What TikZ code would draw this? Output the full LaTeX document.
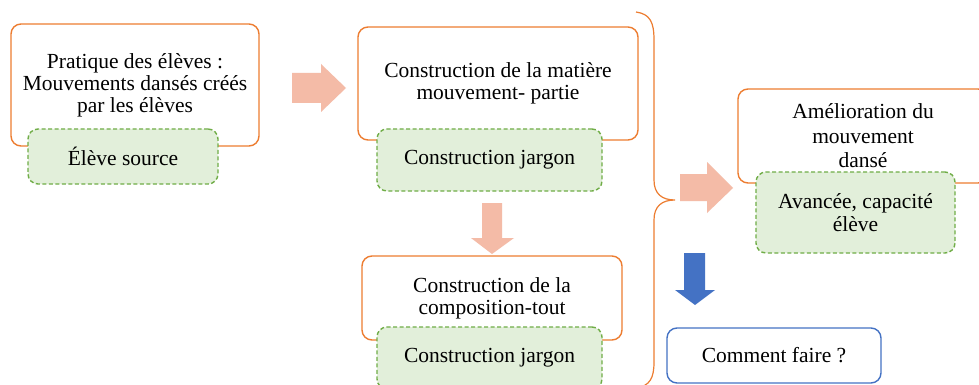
\documentclass[tikz,border=0pt]{standalone}
\usepackage{fontspec}
\setmainfont{Liberation Serif}
\definecolor{boxorange}{RGB}{237,125,49}
\definecolor{jargongreen}{RGB}{112,173,71}
\definecolor{jargonfill}{RGB}{226,239,218}
\definecolor{arrowpink}{RGB}{244,187,167}
\definecolor{askblue}{RGB}{68,114,196}
\begin{document}
\begin{tikzpicture}[x=1pt,y=-1pt,every node/.style={font=\fontsize{21.5}{22}\selectfont,align=center,inner sep=0pt},
  outerbox/.style={draw=boxorange,line width=1.4pt,rounded corners=10pt,fill=white},
  innerbox/.style={draw=jargongreen,line width=1.4pt,dash pattern=on 4pt off 2.5pt,rounded corners=10pt,fill=jargonfill},
  askbox/.style={draw=askblue,line width=1.4pt,rounded corners=10pt,fill=white}]
  \clip (0,0) rectangle (979,385);
  \fill[white] (0,0) rectangle (979,385);
  % stage boxes
  \node[outerbox,minimum width=248pt,minimum height=122pt] (pratique) at (135,85) {Pratique des élèves :\\ Mouvements dansés créés\\ par les élèves};
  \node[innerbox,minimum width=190pt,minimum height=55pt] (source) at (123,156.5) {Élève source};
  \node[outerbox,minimum width=280pt,minimum height=113pt] (matiere) at (498,83.5) {Construction de la matière\\ mouvement- partie};
  \node[innerbox,minimum width=225pt,minimum height=62pt] (jargonA) at (489.5,160) {Construction jargon};
  \node[outerbox,minimum width=260pt,minimum height=84pt] (composition) at (492,298) {Construction de la\\ composition-tout};
  \node[innerbox,minimum width=225pt,minimum height=62pt] (jargonB) at (489.5,358) {Construction jargon};
  \node[outerbox,minimum width=250pt,minimum height=94pt,font=\fontsize{21.5}{24.5}\selectfont] (amelioration) at (863,136) {Amélioration du\\ mouvement\\ dansé};
  \node[innerbox,minimum width=199pt,minimum height=81pt,font=\fontsize{21.5}{23}\selectfont] (avancee) at (855.5,212.5) {Avancée, capacité\\ élève};
  \node[askbox,minimum width=214pt,minimum height=55pt] (comment) at (774,355.5) {Comment faire ?};
  % block arrows
  \fill[arrowpink] (292,73) -- (321,73) -- (321,64) -- (346,88) -- (321,112) -- (321,103) -- (292,103) -- cycle;
  \fill[arrowpink] (482,203) -- (502,203) -- (502,238) -- (514,238) -- (492,254) -- (471,238) -- (482,238) -- cycle;
  \fill[arrowpink] (680,174) -- (707,174) -- (707,162) -- (733,188) -- (707,213) -- (707,201) -- (680,201) -- cycle;
  \fill[askblue] (684,253) -- (705,253) -- (705,290) -- (715,290) -- (695,305) -- (675,290) -- (684,290) -- cycle;
  % brace
  \draw[boxorange,line width=1.2pt] (636,12) .. controls (650,14) and (654,22) .. (654,40) -- (654,180)
    .. controls (654,194) and (662,200) .. (675,200) .. controls (662,200) and (654,206) .. (654,220)
    -- (654,362) .. controls (654,378) and (650,386) .. (636,388);
\end{tikzpicture}
\end{document}
